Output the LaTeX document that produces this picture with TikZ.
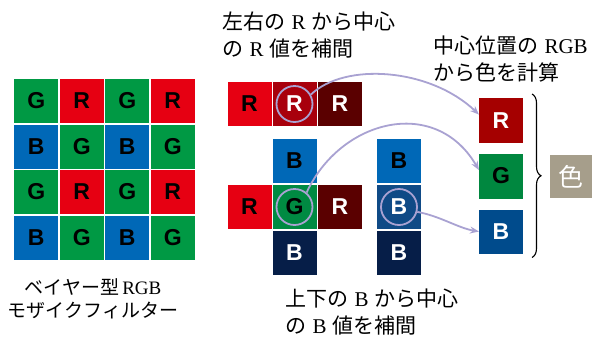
\documentclass[tikz,border=0pt]{standalone}
\usepackage{fontspec}
\setmainfont{Liberation Serif}
\newfontfamily\jp{Noto Sans CJK JP}
\newfontfamily\cellfont{Liberation Sans}
\usetikzlibrary{arrows.meta,decorations.pathreplacing}
\definecolor{cRed}{HTML}{E60012}
\definecolor{cGreen}{HTML}{009944}
\definecolor{cBlue}{HTML}{0068B7}
\definecolor{cDRed}{HTML}{A8000C}
\definecolor{cMaroon}{HTML}{5A0000}
\definecolor{cDGreen}{HTML}{008A42}
\definecolor{cMBlue}{HTML}{0F4A86}
\definecolor{cNavy}{HTML}{061E48}
\definecolor{cRing}{HTML}{A9A2D2}
\definecolor{cBox}{HTML}{A69E8B}
\definecolor{oRed}{HTML}{A50000}
\definecolor{oGreen}{HTML}{00873F}
\definecolor{oBlue}{HTML}{004B8C}
\begin{document}
\begin{tikzpicture}[x=1pt,y=-1pt,
  cell/.style={minimum width=44pt,minimum height=44pt,inner sep=0pt,outer sep=0pt,
    font=\cellfont\bfseries\fontsize{23}{23}\selectfont},
  ring/.style={circle,draw=cRing,line width=1.8pt,minimum size=36pt,inner sep=0pt},
  link/.style={draw=cRing,line width=1.8pt,-{Stealth[length=9pt,width=7pt,inset=3pt]}},
  lbl/.style={font=\fontsize{21}{27}\selectfont,align=left,inner sep=0pt},
  jlt/.style={font=\fontsize{19}{23}\selectfont,align=center,inner sep=0pt}]
\useasboundingbox (0,0) rectangle (592,338);
% Bayer grid
\foreach \c/\x/\col/\t in {1/36.3/cGreen/G,2/81.8/cRed/R,3/127.3/cGreen/G,4/172.8/cRed/R}{
  \node[cell,fill=\col] (a1\c) at (\x,101) {\t};
  \node[cell,fill=\col] (a3\c) at (\x,192) {\t};}
\foreach \c/\x/\col/\t in {1/36.3/cBlue/B,2/81.8/cGreen/G,3/127.3/cBlue/B,4/172.8/cGreen/G}{
  \node[cell,fill=\col] (a2\c) at (\x,146.5) {\t};
  \node[cell,fill=\col] (a4\c) at (\x,237.5) {\t};}
\node[jlt,anchor=north] (cap) at (93,278) {{\jp ベイヤー型}\,RGB\\{\jp モザイクフィルター}};
% top R row
\node[lbl,anchor=north west] (tl) at (222,12) {{\jp 左右の}\hspace{0.3em}R\hspace{0.3em}{\jp から中心}\\{\jp の}\hspace{0.3em}R\hspace{0.3em}{\jp 値を補間}};
\node[cell,fill=cRed] (r1) at (249.5,104) {R};
\node[cell,fill=cDRed,text=white] (r2) at (294.5,104) {R};
\node[cell,fill=cMaroon,text=white] (r3) at (340,104) {R};
% cross
\node[cell,fill=cBlue] (x1) at (294.5,161) {B};
\node[cell,fill=cRed] (x2) at (249.5,207) {R};
\node[cell,fill=cDGreen] (x3) at (294.5,207) {G};
\node[cell,fill=cMaroon,text=white] (x4) at (340,207) {R};
\node[cell,fill=cNavy,text=white] (x5) at (294.5,253) {B};
% column
\node[cell,fill=cBlue] (b1) at (399,161) {B};
\node[cell,fill=cMBlue,text=white] (b2) at (399,207) {B};
\node[cell,fill=cNavy,text=white] (b3) at (399,253) {B};
\node[lbl,anchor=north west] (bt) at (285,289) {{\jp 上下の}\hspace{0.3em}B\hspace{0.3em}{\jp から中心}\\{\jp の}\hspace{0.3em}B\hspace{0.3em}{\jp 値を補間}};
% rings
\node[ring] (cR) at (r2) {};
\node[ring] (cG) at (x3) {};
\node[ring] (cB) at (b2) {};
% outputs
\node[lbl,anchor=north west] (tr) at (433,36) {{\jp 中心位置の}\hspace{0.3em}RGB\\{\jp から色を計算}};
\node[cell,fill=oRed,text=white,minimum height=45pt] (oR) at (501,120.5) {R};
\node[cell,fill=oGreen,minimum height=45pt] (oG) at (501,176) {G};
\node[cell,fill=oBlue,text=white,minimum height=44pt] (oB) at (501,231.5) {B};
\node[fill=cBox,minimum width=42pt,minimum height=43pt,inner sep=0pt,text=white,
  font=\jp\fontsize{25}{25}\selectfont] (col) at (571,176.5) {色};
% arrows
\draw[link] (cR.30) .. controls (345,62) and (430,68) .. (oR.165);
\draw[link] (cG.50) .. controls (340,120) and (435,95) .. (oG.165);
\draw[link] (cB.-15) .. controls (440,216) and (458,228) .. (oB.west);
% brace
\draw[decorate,decoration={brace,amplitude=9pt},line width=1.1pt]
  ([xshift=9pt,yshift=4pt]oR.north east) -- ([xshift=9pt,yshift=-4pt]oB.south east);
\end{tikzpicture}
\end{document}
